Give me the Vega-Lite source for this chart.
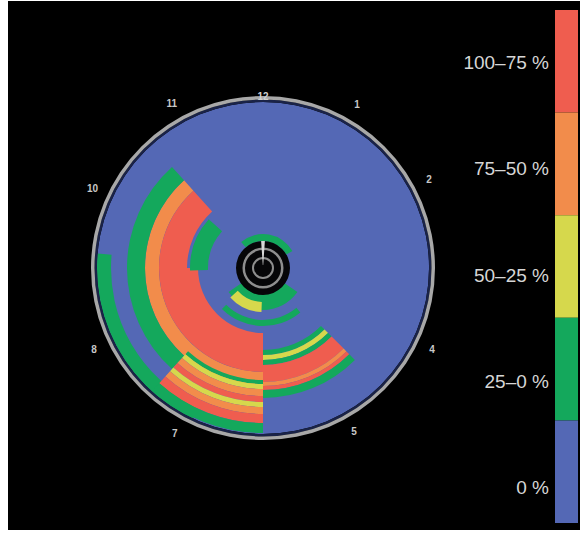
{
  "$schema": "https://vega.github.io/schema/vega-lite/v6.json",
  "width": 572,
  "height": 529,
  "autosize": {"type": "none"},
  "padding": {"left": 8, "top": 1, "right": 3, "bottom": 9},
  "background": "white",
  "config": {"view": {"fill": "black", "stroke": null}},
  "datasets": {
    "cells": [
      {"t1": 0, "t2": 360, "r1": 0, "r2": 166, "level": "0 %"},
      {"t1": 180, "t2": 318, "r1": 104, "r2": 118, "level": "75–50 %"},
      {"t1": 270, "t2": 318, "r1": 76, "r2": 104, "level": "100–75 %"},
      {"t1": 180, "t2": 270, "r1": 65, "r2": 104, "level": "100–75 %"},
      {"t1": 222, "t2": 318, "r1": 118, "r2": 136, "level": "25–0 %"},
      {"t1": 268, "t2": 312, "r1": 55, "r2": 73, "level": "25–0 %"},
      {"t1": 205, "t2": 275, "r1": 152, "r2": 166, "level": "25–0 %"},
      {"t1": 180, "t2": 222, "r1": 112, "r2": 116, "level": "25–0 %"},
      {"t1": 180, "t2": 222, "r1": 116, "r2": 121, "level": "50–25 %"},
      {"t1": 180, "t2": 222, "r1": 121, "r2": 128, "level": "75–50 %"},
      {"t1": 180, "t2": 222, "r1": 128, "r2": 134, "level": "100–75 %"},
      {"t1": 180, "t2": 222, "r1": 134, "r2": 139, "level": "50–25 %"},
      {"t1": 180, "t2": 222, "r1": 139, "r2": 146, "level": "75–50 %"},
      {"t1": 180, "t2": 222, "r1": 146, "r2": 155, "level": "100–75 %"},
      {"t1": 180, "t2": 222, "r1": 155, "r2": 165, "level": "25–0 %"},
      {"t1": 135, "t2": 180, "r1": 82, "r2": 87, "level": "25–0 %"},
      {"t1": 135, "t2": 180, "r1": 87, "r2": 92, "level": "50–25 %"},
      {"t1": 135, "t2": 180, "r1": 92, "r2": 97, "level": "25–0 %"},
      {"t1": 135, "t2": 180, "r1": 97, "r2": 114, "level": "100–75 %"},
      {"t1": 135, "t2": 180, "r1": 114, "r2": 118, "level": "75–50 %"},
      {"t1": 135, "t2": 180, "r1": 118, "r2": 122, "level": "100–75 %"},
      {"t1": 135, "t2": 180, "r1": 122, "r2": 130, "level": "25–0 %"},
      {"t1": -40, "t2": 60, "r1": 27, "r2": 34, "level": "25–0 %"},
      {"t1": 125, "t2": 235, "r1": 26, "r2": 42, "level": "25–0 %"},
      {"t1": 182, "t2": 228, "r1": 34, "r2": 44, "level": "50–25 %"},
      {"t1": 140, "t2": 225, "r1": 52, "r2": 58, "level": "25–0 %"}
    ],
    "levels": [
      {"level": "100–75 %"},
      {"level": "75–50 %"},
      {"level": "50–25 %"},
      {"level": "25–0 %"},
      {"level": "0 %"}
    ],
    "hours": [
      {"hour": "1", "angle": 30},
      {"hour": "2", "angle": 62},
      {"hour": "4", "angle": 116},
      {"hour": "5", "angle": 151},
      {"hour": "7", "angle": 208},
      {"hour": "8", "angle": 244},
      {"hour": "10", "angle": 295},
      {"hour": "11", "angle": 331}
    ]
  },
  "layer": [
    {
      "data": {"name": "cells"},
      "mark": {"type": "arc", "strokeWidth": 0},
      "encoding": {
        "x": {"datum": 255, "type": "quantitative", "scale": {"domain": [0, 572]}, "axis": null},
        "y": {"datum": 267, "type": "quantitative", "scale": {"domain": [0, 529], "reverse": true}, "axis": null},
        "theta": {"field": "t1", "type": "quantitative", "stack": null, "scale": {"domain": [0, 360], "range": [0, 6.283185307]}},
        "theta2": {"field": "t2"},
        "radius": {"field": "r2", "type": "quantitative", "scale": {"type": "linear", "domain": [0, 200], "range": [0, 200], "zero": true}},
        "radius2": {"field": "r1"},
        "color": {"field": "level", "type": "nominal", "legend": null,
          "scale": {"domain": ["100–75 %", "75–50 %", "50–25 %", "25–0 %", "0 %"],
                    "range": ["#ef5d4f", "#f28c4b", "#d6d84c", "#14a85c", "#5468b5"]}}
      }
    },
    {
      "data": {"values": [{"t1": 0, "t2": 360, "r1": 166, "r2": 168.5}]},
      "mark": {"type": "arc", "color": "#1a2348", "strokeWidth": 0},
      "encoding": {
        "x": {"datum": 255, "type": "quantitative", "scale": {"domain": [0, 572]}, "axis": null},
        "y": {"datum": 267, "type": "quantitative", "scale": {"domain": [0, 529], "reverse": true}, "axis": null},
        "theta": {"field": "t1", "type": "quantitative", "stack": null, "scale": {"domain": [0, 360], "range": [0, 6.283185307]}},
        "theta2": {"field": "t2"},
        "radius": {"field": "r2", "type": "quantitative", "scale": {"type": "linear", "domain": [0, 200], "range": [0, 200], "zero": true}},
        "radius2": {"field": "r1"}
      }
    },
    {
      "data": {"values": [{"t1": 0, "t2": 360, "r1": 168.5, "r2": 172}]},
      "mark": {"type": "arc", "color": "#a8a8a8", "strokeWidth": 0},
      "encoding": {
        "x": {"datum": 255, "type": "quantitative", "scale": {"domain": [0, 572]}, "axis": null},
        "y": {"datum": 267, "type": "quantitative", "scale": {"domain": [0, 529], "reverse": true}, "axis": null},
        "theta": {"field": "t1", "type": "quantitative", "stack": null, "scale": {"domain": [0, 360], "range": [0, 6.283185307]}},
        "theta2": {"field": "t2"},
        "radius": {"field": "r2", "type": "quantitative", "scale": {"type": "linear", "domain": [0, 200], "range": [0, 200], "zero": true}},
        "radius2": {"field": "r1"}
      }
    },
    {
      "data": {"values": [{"t1": 0, "t2": 360, "r1": 0, "r2": 27}]},
      "mark": {"type": "arc", "color": "#060608", "strokeWidth": 0},
      "encoding": {
        "x": {"datum": 255, "type": "quantitative", "scale": {"domain": [0, 572]}, "axis": null},
        "y": {"datum": 267, "type": "quantitative", "scale": {"domain": [0, 529], "reverse": true}, "axis": null},
        "theta": {"field": "t1", "type": "quantitative", "stack": null, "scale": {"domain": [0, 360], "range": [0, 6.283185307]}},
        "theta2": {"field": "t2"},
        "radius": {"field": "r2", "type": "quantitative", "scale": {"type": "linear", "domain": [0, 200], "range": [0, 200], "zero": true}},
        "radius2": {"field": "r1"}
      }
    },
    {
      "data": {"values": [{"t1": 0, "t2": 360, "r1": 18, "r2": 20.5}, {"t1": 0, "t2": 360, "r1": 9, "r2": 11}]},
      "mark": {"type": "arc", "color": "#8e8e8e", "strokeWidth": 0},
      "encoding": {
        "x": {"datum": 255, "type": "quantitative", "scale": {"domain": [0, 572]}, "axis": null},
        "y": {"datum": 267, "type": "quantitative", "scale": {"domain": [0, 529], "reverse": true}, "axis": null},
        "theta": {"field": "t1", "type": "quantitative", "stack": null, "scale": {"domain": [0, 360], "range": [0, 6.283185307]}},
        "theta2": {"field": "t2"},
        "radius": {"field": "r2", "type": "quantitative", "scale": {"type": "linear", "domain": [0, 200], "range": [0, 200], "zero": true}},
        "radius2": {"field": "r1"}
      }
    },
    {
      "data": {"values": [{"t1": -4, "t2": 4, "r1": 3, "r2": 27}]},
      "mark": {"type": "arc", "color": "#d8d8d8", "strokeWidth": 0},
      "encoding": {
        "x": {"datum": 255, "type": "quantitative", "scale": {"domain": [0, 572]}, "axis": null},
        "y": {"datum": 267, "type": "quantitative", "scale": {"domain": [0, 529], "reverse": true}, "axis": null},
        "theta": {"field": "t1", "type": "quantitative", "stack": null, "scale": {"domain": [0, 360], "range": [0, 6.283185307]}},
        "theta2": {"field": "t2"},
        "radius": {"field": "r2", "type": "quantitative", "scale": {"type": "linear", "domain": [0, 200], "range": [0, 200], "zero": true}},
        "radius2": {"field": "r1"}
      }
    },
    {
      "data": {"name": "hours"},
      "mark": {"type": "text", "color": "#c8c8c8", "fontSize": 10, "fontWeight": "bold", "font": "Liberation Sans", "align": "center", "baseline": "middle"},
      "encoding": {
        "x": {"datum": 255, "type": "quantitative", "scale": {"domain": [0, 572]}, "axis": null},
        "y": {"datum": 267, "type": "quantitative", "scale": {"domain": [0, 529], "reverse": true}, "axis": null},
        "theta": {"field": "angle", "type": "quantitative", "scale": {"domain": [0, 360], "range": [0, 6.283185307]}},
        "radius": {"datum": 188, "type": "quantitative", "scale": {"type": "linear", "domain": [0, 200], "range": [0, 200], "zero": true}},
        "text": {"field": "hour"}
      }
    },
    {
      "data": {"values": [{"hour": "12", "angle": 0}]},
      "mark": {"type": "text", "color": "#d0d0d0", "fontSize": 10, "fontWeight": "bold", "font": "Liberation Sans", "align": "center", "baseline": "middle"},
      "encoding": {
        "x": {"datum": 255, "type": "quantitative", "scale": {"domain": [0, 572]}, "axis": null},
        "y": {"datum": 267, "type": "quantitative", "scale": {"domain": [0, 529], "reverse": true}, "axis": null},
        "theta": {"field": "angle", "type": "quantitative", "scale": {"domain": [0, 360], "range": [0, 6.283185307]}},
        "radius": {"datum": 171, "type": "quantitative", "scale": {"type": "linear", "domain": [0, 200], "range": [0, 200], "zero": true}},
        "text": {"field": "hour"}
      }
    },
    {
      "data": {"name": "levels"},
      "mark": {"type": "rect", "strokeWidth": 0},
      "encoding": {
        "x": {"datum": 547, "type": "quantitative", "scale": {"domain": [0, 572]}, "axis": null},
        "x2": {"datum": 570},
        "y": {"field": "level", "type": "nominal", "axis": null,
          "scale": {"type": "band", "domain": ["100–75 %", "75–50 %", "50–25 %", "25–0 %", "0 %"], "range": [9, 522], "paddingInner": 0, "paddingOuter": 0}},
        "color": {"field": "level", "type": "nominal", "legend": null,
          "scale": {"domain": ["100–75 %", "75–50 %", "50–25 %", "25–0 %", "0 %"],
                    "range": ["#ef5d4f", "#f28c4b", "#d6d84c", "#14a85c", "#5468b5"]}}
      }
    },
    {
      "data": {"name": "levels"},
      "mark": {"type": "text", "color": "#d6d6d6", "fontSize": 19, "font": "Liberation Sans", "align": "right", "baseline": "middle"},
      "encoding": {
        "x": {"datum": 541, "type": "quantitative", "scale": {"domain": [0, 572]}, "axis": null},
        "y": {"field": "level", "type": "nominal", "axis": null,
          "scale": {"type": "band", "domain": ["100–75 %", "75–50 %", "50–25 %", "25–0 %", "0 %"], "range": [9, 540], "paddingInner": 0, "paddingOuter": 0}},
        "text": {"field": "level"}
      }
    }
  ],
  "resolve": {"scale": {"y": "independent"}}
}
